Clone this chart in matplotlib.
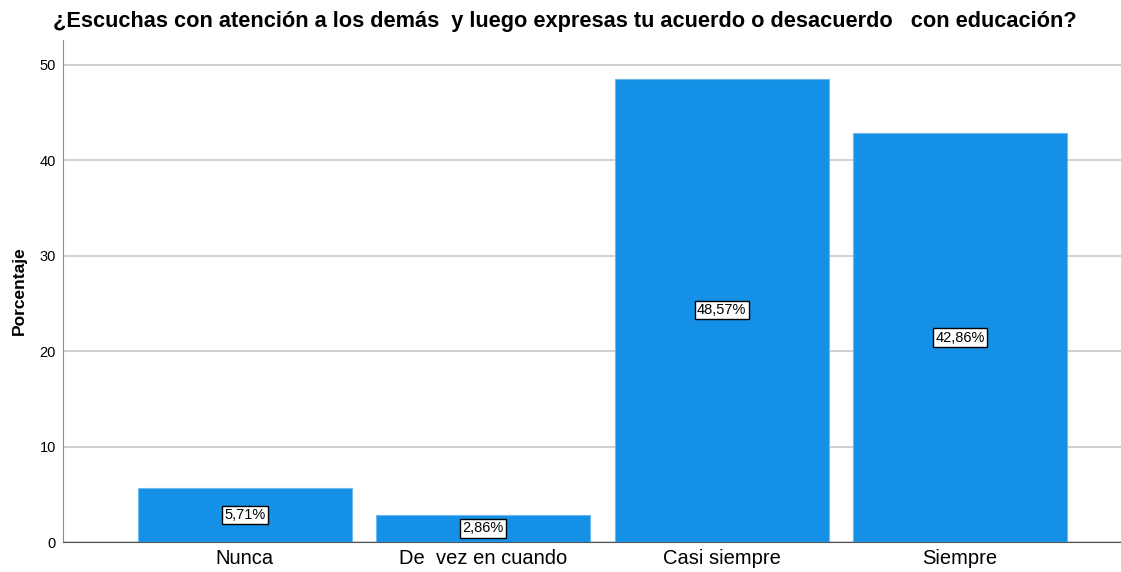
import matplotlib.pyplot as plt

## Data ##
categorias = ["Nunca", "De  vez en cuando", "Casi siempre", "Siempre"]
porcentajes = [5.71, 2.86, 48.57, 42.86]
etiquetas = ["5,71%", "2,86%", "48,57%", "42,86%"]

titulo = "¿Escuchas con atención a los demás  y luego expresas tu acuerdo o desacuerdo   con educación?"

plt.rcParams["font.family"] = ["Liberation Sans", "DejaVu Sans"]

fig = plt.figure(figsize=(11.21, 5.72), dpi=100)
ax = fig.add_axes([0.0562, 0.0524, 0.9438, 0.8776])

x = range(len(categorias))
ax.bar(x, porcentajes, width=0.897, color="#1490e6", edgecolor="#6cb8f0",
       linewidth=0.8, zorder=3)

# labels in the middle of each bar
for i, (v, lab) in enumerate(zip(porcentajes, etiquetas)):
    ax.text(i, v / 2, lab, ha="center", va="center", fontsize=10.5, zorder=4,
            bbox=dict(boxstyle="square,pad=0.15", facecolor="white",
                      edgecolor="black", linewidth=1))

ax.set_xlim(-0.763, 3.675)
ax.set_ylim(0, 52.6)
ax.set_yticks([0, 10, 20, 30, 40, 50])
ax.set_xticks(list(x))
ax.set_xticklabels(categorias, fontsize=14.5)
ax.tick_params(axis="y", labelsize=10.5, length=0, pad=5)
ax.tick_params(axis="x", length=0, pad=5)
ax.yaxis.grid(True, color="#c8c8c8", linewidth=1.2, zorder=0)

ax.spines["top"].set_visible(False)
ax.spines["right"].set_visible(False)
ax.spines["left"].set_color("#8c8c8c")
ax.spines["bottom"].set_color("#555555")

ax.set_ylabel("Porcentaje", fontsize=12.5, fontweight="bold", labelpad=9)
fig.text(0.047, 0.962, titulo, fontsize=15.7, fontweight="bold", ha="left", va="center")

fig.savefig("out.png", dpi=100)
